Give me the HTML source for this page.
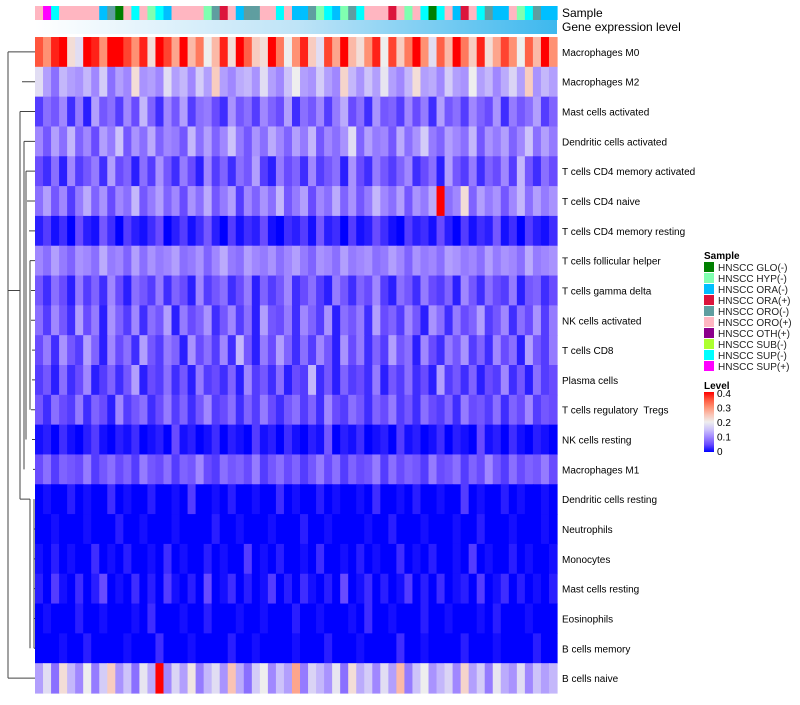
<!DOCTYPE html>
<html><head><meta charset="utf-8"><style>
body{margin:0;background:#fff;width:800px;height:700px;overflow:hidden;font-family:"Liberation Sans",sans-serif}
</style></head><body>
<svg id="c" width="800" height="700" xmlns="http://www.w3.org/2000/svg"></svg>
<script>
const rowNames=["Macrophages M0","Macrophages M2","Mast cells activated","Dendritic cells activated","T cells CD4 memory activated","T cells CD4 naive","T cells CD4 memory resting","T cells follicular helper","T cells gamma delta","NK cells activated","T cells CD8","Plasma cells","T cells regulatory\u00a0 Tregs","NK cells resting","Macrophages M1","Dendritic cells resting","Neutrophils","Monocytes","Mast cells resting","Eosinophils","B cells memory","B cells naive"];
const sampleCats=["HNSCC GLO(-)","HNSCC HYP(-)","HNSCC ORA(-)","HNSCC ORA(+)","HNSCC ORO(-)","HNSCC ORO(+)","HNSCC OTH(+)","HNSCC SUB(-)","HNSCC SUP(-)","HNSCC SUP(+)"];
const sampleColors=["#007f00","#80ffb0","#00bfff","#dc143c","#5f9ea0","#ffb6c1","#8b008b","#adff2f","#00ffff","#ff00ff"];
const sampleIdx=[5,9,8,5,5,5,5,5,2,4,0,5,8,5,1,8,2,5,5,5,5,1,4,3,5,2,4,4,5,5,8,5,2,2,4,1,8,2,1,4,8,5,5,5,3,5,1,5,8,0,8,5,2,3,5,8,4,2,2,5,1,8,4,2,2];
const levelTicks=[0,0.1,0.2,0.3,0.4];
const M=[
[35,30,38,40,22,18,40,38,30,40,40,36,30,38,22,40,36,28,40,26,32,20,26,38,22,40,34,24,22,40,32,20,30,38,24,18,36,28,40,26,22,30,38,20,36,24,32,40,30,18,34,26,40,32,24,38,22,28,36,30,20,34,26,40,30],
[18,12,8,14,12,11,14,10,16,8,12,10,22,11,12,10,18,12,14,10,16,12,24,12,10,13,14,11,18,12,10,15,20,12,11,16,12,10,23,14,11,15,12,19,12,10,14,22,12,13,10,16,12,11,20,12,14,10,13,17,12,24,11,14,12],
[4,8,6,10,3,9,2,12,6,8,4,10,5,14,7,3,10,6,12,4,8,9,5,3,11,6,8,4,10,7,5,12,3,8,6,10,4,9,13,5,8,3,11,6,7,4,10,5,9,3,12,6,8,4,10,7,5,11,3,9,6,8,12,4,7],
[10,6,12,8,14,7,10,5,12,9,15,6,11,8,13,7,10,9,6,14,8,12,7,10,15,9,6,11,8,13,10,7,12,9,14,6,10,8,11,18,7,12,9,10,6,13,8,11,16,9,7,12,10,8,14,6,11,9,12,7,10,15,8,12,9],
[5,3,8,2,10,4,6,9,3,12,5,7,2,8,4,11,6,3,9,5,2,10,4,7,3,8,6,12,4,2,9,5,7,3,10,4,6,8,2,11,5,3,9,6,4,7,10,3,5,8,2,12,6,4,9,3,7,5,10,4,14,6,3,8,5],
[8,12,6,10,4,9,13,7,11,5,10,8,14,6,9,12,7,10,5,11,8,13,6,9,12,4,10,7,11,8,14,6,9,12,5,10,8,13,7,11,6,9,14,10,8,12,6,11,9,13,40,8,10,22,7,12,9,11,6,10,14,8,12,9,11],
[2,4,1,3,0,5,2,1,6,3,0,4,2,1,3,5,0,2,4,1,3,6,2,0,4,1,3,2,5,1,0,3,2,4,1,6,2,3,0,4,1,2,5,3,1,0,4,2,3,1,5,2,0,4,1,3,2,6,1,3,0,4,2,1,3],
[10,8,12,9,7,11,10,8,13,9,10,7,12,8,11,9,10,12,8,9,11,7,10,13,9,8,12,10,9,11,8,10,12,9,7,11,10,8,12,9,10,11,8,9,12,10,7,11,9,10,8,12,11,9,10,8,12,9,11,10,8,13,9,10,11],
[6,3,8,5,2,9,4,7,3,10,5,2,8,6,4,9,3,7,5,2,10,4,6,8,3,5,9,2,7,4,6,10,3,5,8,4,2,9,6,3,7,5,10,4,2,8,6,3,9,5,4,7,2,10,6,3,8,5,4,9,2,6,7,3,5],
[8,4,10,6,3,12,5,9,2,11,7,4,10,3,8,6,12,2,9,5,7,11,3,6,10,4,8,2,12,6,5,9,3,10,7,4,11,2,8,6,9,3,12,5,7,4,10,6,2,11,8,3,9,5,7,12,4,6,10,3,8,5,11,4,9],
[5,9,3,11,6,4,12,7,2,10,5,8,3,12,6,4,9,7,2,11,5,8,4,10,3,14,6,2,9,5,12,7,3,8,4,10,6,2,11,5,9,3,7,4,12,6,8,2,10,5,3,9,6,11,4,7,3,10,5,8,2,12,6,4,9],
[4,6,2,8,3,5,10,2,4,7,3,6,12,2,5,4,8,3,6,2,9,4,5,3,7,2,10,4,6,3,8,2,5,4,14,3,6,2,7,4,5,3,9,2,6,4,8,3,5,2,12,4,6,3,7,2,5,4,10,3,6,2,8,4,5],
[6,3,8,5,4,9,3,7,5,2,10,4,6,8,3,5,9,4,7,3,6,10,4,5,8,3,7,4,9,5,3,6,8,4,7,3,10,5,4,8,6,3,7,5,9,4,6,3,8,5,4,7,3,9,5,6,4,8,3,7,5,10,4,6,5],
[1,2,0,3,1,0,2,4,1,0,2,1,3,0,1,2,0,5,1,2,0,1,3,0,2,1,0,4,1,2,0,3,1,0,2,1,6,0,2,1,3,0,1,2,0,4,1,2,0,1,3,0,2,1,0,5,1,2,0,3,1,0,2,1,0],
[5,8,4,7,6,5,9,4,6,8,5,7,4,9,6,5,8,4,7,6,10,5,4,8,6,7,5,9,4,6,8,5,7,4,6,9,5,8,4,7,5,6,9,4,8,5,7,6,4,9,5,6,8,4,7,5,10,6,4,8,5,7,6,9,5],
[0,1,0,0,2,0,1,0,0,3,0,1,0,0,2,0,0,1,0,4,0,0,1,0,2,0,0,1,0,0,3,0,1,0,0,2,0,1,0,0,1,0,3,0,0,1,0,2,0,0,1,0,0,4,0,1,0,0,2,0,1,0,0,1,0],
[0,0,1,0,0,0,1,0,0,0,2,0,0,1,0,0,0,1,0,0,0,0,2,0,0,1,0,0,0,1,0,0,0,2,0,0,1,0,0,0,0,1,0,0,2,0,0,0,1,0,0,0,1,0,0,2,0,0,0,1,0,0,0,1,0],
[1,0,2,0,1,0,0,3,0,1,0,2,0,0,1,0,3,0,1,0,0,2,0,1,0,0,4,0,1,0,2,0,0,1,0,3,0,0,1,0,2,0,1,0,0,3,0,1,0,2,0,0,1,0,4,0,1,0,0,2,0,1,0,0,1],
[2,0,4,1,0,3,0,2,5,0,1,0,3,0,2,0,4,1,0,2,0,5,0,1,3,0,2,0,1,4,0,2,0,3,1,0,2,0,5,0,1,3,0,2,0,1,4,0,2,0,3,0,1,2,0,4,0,1,3,0,2,0,1,0,2],
[0,1,0,0,0,2,0,0,1,0,0,0,1,0,3,0,0,0,1,0,0,2,0,0,0,1,0,0,1,0,0,0,2,0,0,1,0,0,0,1,0,3,0,0,1,0,0,0,2,0,0,1,0,0,0,1,0,2,0,0,0,1,0,0,0],
[0,0,0,1,0,0,2,0,0,0,0,1,0,0,0,3,0,0,0,1,0,0,0,0,2,0,0,1,0,0,0,0,1,0,0,0,2,0,0,0,1,0,0,0,0,3,0,0,1,0,0,0,0,2,0,0,0,1,0,0,0,0,2,0,0],
[12,18,8,22,14,10,20,9,16,24,11,15,8,19,13,40,10,17,12,21,9,14,18,11,25,13,8,16,20,10,15,12,28,9,17,14,11,19,8,22,13,16,10,18,12,26,9,15,20,11,14,17,10,23,12,16,9,19,13,11,18,10,15,12,14]
];
const X0=35,X1=557,Y0=37,Y1=693;
const nC=M[0].length,nR=M.length;
const xPos=i=>X0+i*(X1-X0)/nC;
const yPos=j=>Y0+j*(Y1-Y0)/nR;
const cStops=[[0,[0,0,255]],[0.05,[105,75,255]],[0.1,[160,135,255]],[0.15,[205,195,250]],[0.2,[238,238,238]],[0.25,[250,195,180]],[0.3,[255,145,115]],[0.35,[255,85,60]],[0.4,[255,0,0]]];
function col(v){v=Math.max(0,Math.min(0.4,v));
 for(let k=1;k<cStops.length;k++){if(v<=cStops[k][0]+1e-9){const a=cStops[k-1],b=cStops[k];const t=(v-a[0])/(b[0]-a[0]);
 const c=a[1].map((x,i)=>Math.round(x+(b[1][i]-x)*t));return `rgb(${c[0]},${c[1]},${c[2]})`;}}
 return 'rgb(255,0,0)';}
const S=document.getElementById('c'),NS="http://www.w3.org/2000/svg";
function el(t,a,p){const e=document.createElementNS(NS,t);for(const k in a)e.setAttribute(k,a[k]);(p||S).appendChild(e);return e;}
const defs=el('defs',{});
const g1=el('linearGradient',{id:'gel',x1:0,x2:1,y1:0,y2:0},defs);
el('stop',{offset:0,'stop-color':'#ffffff'},g1);el('stop',{offset:0.5,'stop-color':'#bfe4f7'},g1);el('stop',{offset:1,'stop-color':'#3db8ee'},g1);
const g2=el('linearGradient',{id:'lev',x1:0,x2:0,y1:0,y2:1},defs);
for(let k=0;k<=8;k++){el('stop',{offset:k/8,'stop-color':col(0.4-k*0.05)},g2);}
const ga=el('g',{});
sampleIdx.forEach((s,i)=>{const r=el('rect',{x:xPos(i),y:6,width:(X1-X0)/nC+0.6,height:14,fill:sampleColors[s]},ga);
});
const ge=el('rect',{x:X0,y:20,width:X1-X0,height:14,fill:'url(#gel)'});

let t=el('text',{x:562,y:17,'font-size':12});t.textContent='Sample';
t=el('text',{x:562,y:31,'font-size':12});t.textContent='Gene expression level';
const gh=el('g',{});
M.forEach((row,j)=>{row.forEach((v,i)=>{const r=el('rect',{x:xPos(i),y:yPos(j),width:(X1-X0)/nC+0.6,height:(Y1-Y0)/nR+0.6,fill:col(v/100)},gh);
});
const lt=el('text',{x:562,y:yPos(j)+(Y1-Y0)/nR/2+4,'font-size':10});lt.textContent=rowNames[j];
});
const ry=j=>yPos(j)+(Y1-Y0)/nR/2;
const dg=el('g',{stroke:'#444','stroke-width':1,fill:'none'});
el('path',{d:`M8,${ry(0)}V${ry(21)}M8,${ry(0)}H35M8,${ry(21)}H35M8,${ry(8)}H20M20,${ry(2)}V${ry(15)}M20,${ry(2)}H35M20,${ry(15)}H30M24,${ry(3)}H35M26,${ry(4)}H35M27,${ry(5)}H35M29,${ry(6)}H35M30,${ry(7)}H35M31,${ry(8)}H35M31,${ry(9)}H35M32,${ry(10)}H35M32,${ry(11)}H35M31,${ry(12)}H35M32,${ry(13)}H35M33,${ry(14)}H35M34,${ry(16)}H35M34,${ry(17)}H35M34,${ry(18)}H35M34,${ry(19)}H35M34,${ry(20)}H35M24,${ry(3)}V${ry(14)}M26,${ry(4)}V${ry(13)}M30,${ry(7)}V${ry(12)}M30,${ry(15)}V${ry(20)}M34,${ry(15)}V${ry(20)}M22,${ry(1)}H35`},dg);
const lg=el('g',{});
t=el('text',{x:704,y:259,'font-size':10,'font-weight':'bold'},lg);t.textContent='Sample';
sampleCats.forEach((c,i)=>{const r=el('rect',{x:704,y:262+i*11,width:10,height:10,fill:sampleColors[i]},lg);

const tx=el('text',{x:718,y:271+i*11,'font-size':10,fill:'#222'},lg);tx.textContent=c;
});
const lv=el('g',{});
t=el('text',{x:704,y:389,'font-size':10,'font-weight':'bold'},lv);t.textContent='Level';
el('rect',{x:704,y:392,width:10,height:60,fill:'url(#lev)'},lv);
levelTicks.forEach(v=>{const y=452-v/0.4*58;const tx=el('text',{x:717,y:y+3,'font-size':10},lv);tx.textContent=String(v);
});
</script>
</body></html>
